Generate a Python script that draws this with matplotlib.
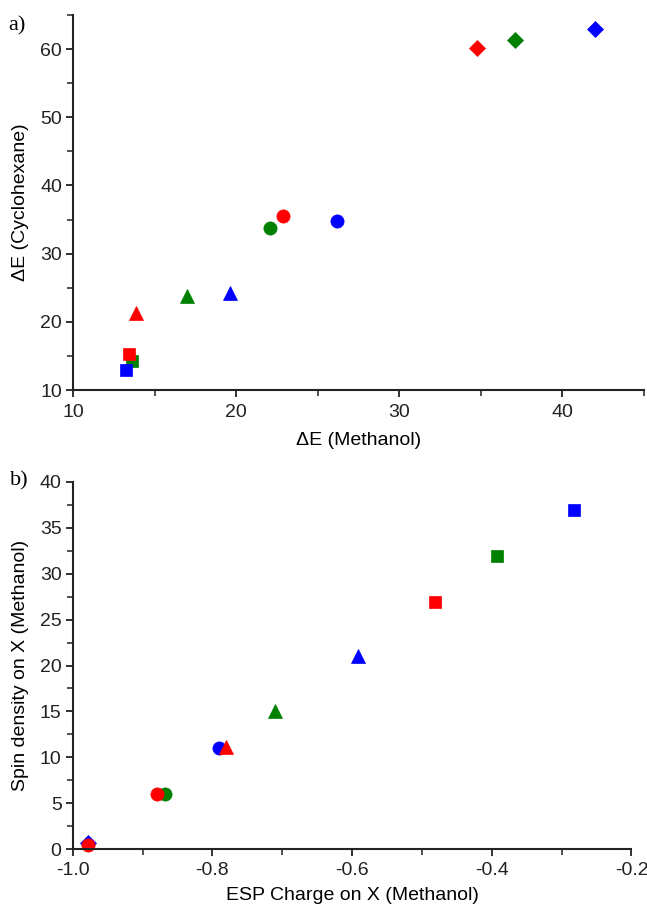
import matplotlib
matplotlib.use('Agg')
import matplotlib.pyplot as plt
from matplotlib.ticker import MultipleLocator

plt.rcParams['font.family'] = ['Liberation Sans', 'DejaVu Sans']
plt.rcParams['axes.unicode_minus'] = False

# marker shapes for the four groups
shapes = ['s', '^', 'o', 'D']

# a) dE in methanol vs dE in cyclohexane
a_x_green = [13.62, 16.99, 22.09, 37.10]
a_y_green = [14.3, 23.8, 33.7, 61.3]
a_x_blue = [13.21, 19.61, 26.20, 41.99]
a_y_blue = [13.0, 24.2, 34.85, 63.0]
a_x_red = [13.40, 13.83, 22.88, 34.77]
a_y_red = [15.3, 21.35, 35.5, 60.2]

# b) ESP charge vs spin density
b_x_green = [-0.392, -0.710, -0.868]
b_y_green = [31.95, 15.05, 6.0]
b_shapes_green = ['s', '^', 'o']
b_x_blue = [-0.282, -0.591, -0.7905, -0.978]
b_y_blue = [36.97, 21.05, 10.98, 0.7]
b_shapes_blue = ['s', '^', 'o', 'D']
b_x_red = [-0.481, -0.780, -0.880, -0.978]
b_y_red = [26.94, 11.1, 6.0, 0.4]
b_shapes_red = ['s', '^', 'o', 'o']

sizes = {'s': 8, '^': 9.5, 'o': 9.5, 'D': 8}

fig = plt.figure(figsize=(6.47, 9.06), dpi=100)
ax1 = fig.add_axes([0.1133, 0.5695, 0.8821, 0.4139])
ax2 = fig.add_axes([0.1124, 0.0629, 0.8636, 0.4051])


def draw(ax, xs, ys, mk, color):
    for x, y, m in zip(xs, ys, mk):
        ax.plot(x, y, linestyle='none', marker=m, ms=sizes[m],
                color=color, mec=color, mew=0.5, clip_on=False)


draw(ax1, a_x_green, a_y_green, shapes, 'green')
draw(ax1, a_x_blue, a_y_blue, shapes, 'blue')
draw(ax1, a_x_red, a_y_red, shapes, 'red')

draw(ax2, b_x_green, b_y_green, b_shapes_green, 'green')
draw(ax2, b_x_blue, b_y_blue, b_shapes_blue, 'blue')
draw(ax2, b_x_red, b_y_red, b_shapes_red, 'red')

ax1.set_xlim(10, 45)
ax1.set_ylim(10, 65)
ax1.xaxis.set_major_locator(MultipleLocator(10))
ax1.xaxis.set_minor_locator(MultipleLocator(5))
ax1.yaxis.set_major_locator(MultipleLocator(10))
ax1.yaxis.set_minor_locator(MultipleLocator(5))
ax1.set_xlabel('ΔE (Methanol)', fontsize=14, labelpad=8)
ax1.set_ylabel('ΔE (Cyclohexane)', fontsize=14, labelpad=8)

ax2.set_xlim(-1.0, -0.2)
ax2.set_ylim(0, 40)
ax2.xaxis.set_major_locator(MultipleLocator(0.2))
ax2.xaxis.set_minor_locator(MultipleLocator(0.1))
ax2.yaxis.set_major_locator(MultipleLocator(5))
ax2.yaxis.set_minor_locator(MultipleLocator(2.5))
ax2.set_xlabel('ESP Charge on X (Methanol)', fontsize=14, labelpad=6)
ax2.set_ylabel('Spin density on X (Methanol)', fontsize=14, labelpad=8)

for ax in (ax1, ax2):
    for s in ('top', 'right'):
        ax.spines[s].set_visible(False)
    for s in ('left', 'bottom'):
        ax.spines[s].set_linewidth(1.5)
        ax.spines[s].set_color('#222222')
    ax.tick_params(which='major', length=5, width=1.3, labelsize=14,
                   colors='#222222', pad=3)
    ax.tick_params(which='minor', length=4, width=1.1, colors='#222222')
ax1.tick_params(axis='x', which='major', pad=5)
ax2.tick_params(axis='x', which='major', pad=4)

fig.text(0.012, 0.982, 'a)', family='Liberation Serif', fontsize=16, va='top')
fig.text(0.015, 0.480, 'b)', family='Liberation Serif', fontsize=16, va='top')

fig.savefig('out.png', dpi=100)
